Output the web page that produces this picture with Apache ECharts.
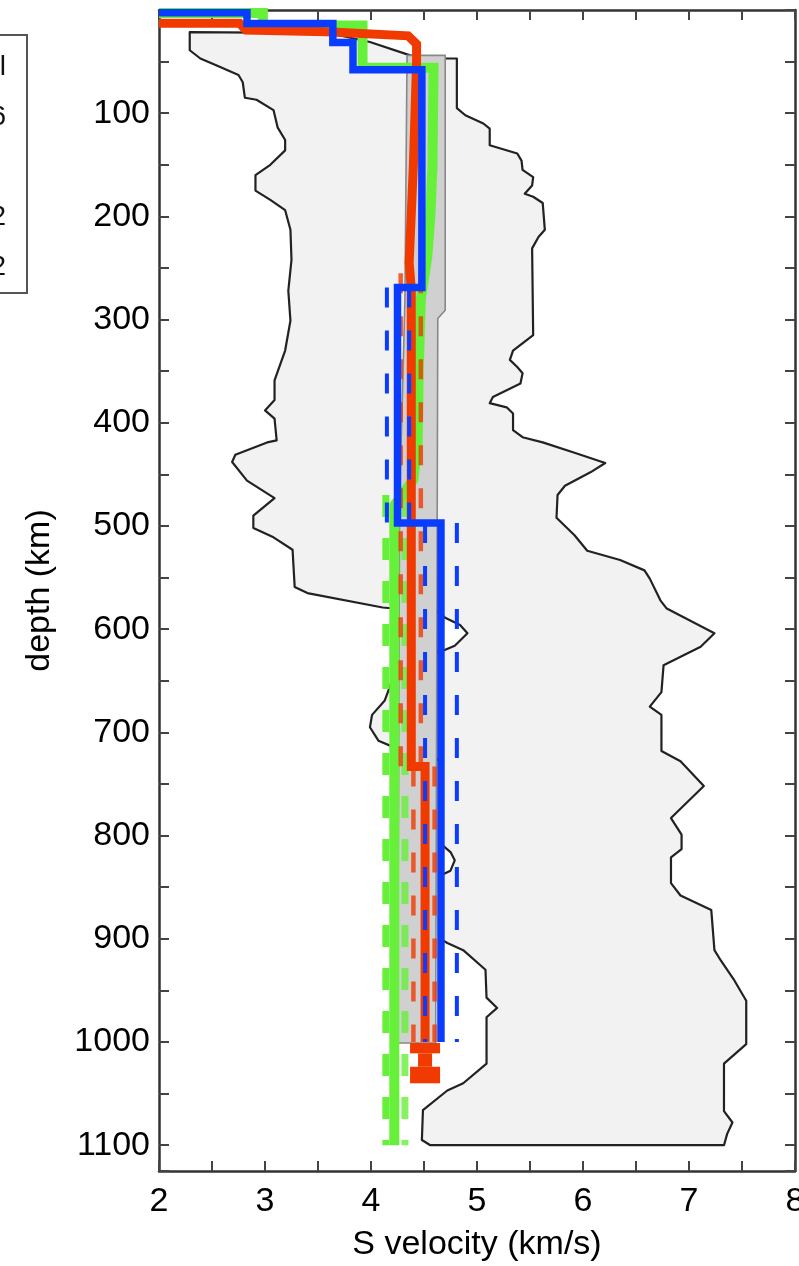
<!DOCTYPE html>
<html><head><meta charset="utf-8">
<script src="https://cdn.jsdelivr.net/npm/echarts@6/dist/echarts.min.js"></script>
<style>html,body{margin:0;padding:0;background:#fff}#c{width:799px;height:1266px}</style>
</head><body><div id="c"></div>
<script>
// ---------- data ----------
const xRange = [2, 8];
const depthRange = [0, 1125];
const xTitle = 'S velocity (km/s)';
const yTitle = 'depth (km)';
const legendTails = ['l', '6', '', '2', '2'];

// envelope (closed outline: top edge, right side down, bottom, left side up)
const envV = [2.29,3.61,3.99,4.37,4.46,4.81,
  4.81,4.89,5.06,5.12,5.12,5.38,5.42,5.43,5.53,5.52,5.45,5.53,5.62,5.64,5.58,5.52,5.53,5.34,5.31,5.38,5.43,5.41,5.15,5.12,5.28,5.34,5.34,5.43,5.62,5.92,6.21,6.07,5.83,5.76,5.75,5.92,6.04,6.35,6.58,6.63,6.73,6.79,7.24,7.11,6.76,6.74,6.63,6.74,6.74,6.92,7.14,6.83,6.93,6.93,6.83,6.83,6.92,7.21,7.24,7.30,7.42,7.54,7.54,7.33,7.33,7.41,7.36,7.33,
  4.56,
  4.48,4.49,4.72,4.87,5.09,5.09,5.19,5.09,5.08,4.87,4.72,4.67,4.67,4.75,4.79,4.75,4.67,4.65,4.23,4.07,3.99,4.01,4.13,4.27,4.70,4.79,4.91,4.84,4.70,4.65,4.11,3.40,3.28,3.26,3.08,2.89,2.89,3.09,2.83,2.69,2.72,3.02,3.11,3.09,3.00,3.09,3.09,3.19,3.24,3.22,3.25,3.24,3.19,3.05,2.91,2.91,3.05,3.19,3.19,3.12,3.08,2.92,2.81,2.79,2.75,2.55,2.39,2.29];
const envD = [21.5,22.5,31,44,47,47,
  95,102,110,115,131,139,146,155,162,170,178,181,187,213,220,231,315,330,339,346,352,362,375,381,385,391,407,414,419,429,439,448,461,470,492,509,524,533,543,551,572,580,604,617,635,661,675,683,718,728,752,783,799,813,821,846,858,872,911,921,939,960,1002,1021,1067,1078,1089,1100,
  1100,
  1095,1066,1047,1040,1021,976,967,957,930,911,904,901,838,834,824,816,809,727,715,708,695,683,669,630,620,616,604,596,589,584,579,565,559,523,511,502,490,473,456,438,431,419,417,396,388,378,359,330,301,272,242,213,194,184,175,160,150,136,126,114,97,87,85,70,63,54,47,39];

// dark grey band
const bandV = [4.34, 4.32, 4.27, 4.25, 4.61, 4.63, 4.70, 4.70];
const bandD = [44, 281, 475, 1001, 1001, 299, 291, 44];

// blue model
const blueV = [2.0, 2.83, 2.83, 3.64, 3.64, 3.83, 3.83, 4.48, 4.48, 4.25, 4.25, 4.66, 4.66];
const blueD = [2.6, 2.6, 13, 13, 31.5, 31.5, 58, 58, 269, 269, 497, 497, 1000];
const blueBoundTop = [269, 497];
const blueBoundBottom = [497, 1000];
const blueLow = [4.15, 4.51];
const blueHigh = [4.36, 4.81];

// red model
const redV = [2.0, 2.76, 2.82, 3.58, 4.35, 4.43, 4.43, 4.40, 4.36, 4.38, 4.38, 4.51, 4.51];
const redD = [12.8, 12.8, 19.5, 21, 25, 33, 50, 150, 245, 270, 733, 733, 1000];
const redBoundTop = [255, 733];
const redBoundBottom = [733, 1000];
const redLow = [4.28, 4.40];
const redHigh = [4.47, 4.60];
const redTailV = 4.51;
const redTailD = [1001, 1011, 1024, 1040];

// green model
const greenV = [2.0, 2.98, 2.98, 3.92, 3.92, 4.59, 4.58, 4.56, 4.53, 4.47, 4.45, 4.44, 4.40, 4.22, 4.22, 4.22];
const greenD = [3, 3, 15, 15, 56, 56, 150, 200, 240, 280, 350, 420, 455, 480, 500, 1100];
const greenBoundD = [470, 1100];
const greenLow = 4.14;
const greenHigh = 4.32;

// ---------- styles ----------
const FONT = "'Liberation Sans', Arial, Helvetica, sans-serif";
const BLUE = '#0a3cff', RED = '#f03a00', GREEN = '#66f03a';
const AX = '#333';

function lineSeries(vs, ds, color, width, dash, z, opacity) {
  return {
    type: 'line', xAxisIndex: 0, yAxisIndex: 0,
    data: vs.map((v, i) => [v, ds[i]]),
    symbol: 'none', silent: true, z: z, clip: true, animation: false,
    lineStyle: { color: color, width: width, type: dash, join: 'miter', cap: 'butt',
      opacity: opacity == null ? 1 : opacity }
  };
}
function polySeries(vs, ds, fill, stroke, lw, z) {
  return {
    type: 'custom', xAxisIndex: 0, yAxisIndex: 0, z: z, silent: true, clip: true, animation: false,
    data: [[vs[0], ds[0]]],
    renderItem: function (params, api) {
      return { type: 'polygon', shape: { points: vs.map((v, i) => api.coord([v, ds[i]])) },
        style: { fill: fill, stroke: stroke, lineWidth: lw, lineJoin: 'round' } };
    }
  };
}

const series = [];
series.push(polySeries(envV, envD, '#f2f2f2', '#222', 2.2, 1));
series.push(polySeries(bandV, bandD, '#d0d0d0', '#888', 1.6, 2));
// green
series.push(lineSeries([greenLow, greenLow], greenBoundD, GREEN, 7, [22, 21], 3));
series.push(lineSeries([greenHigh, greenHigh], greenBoundD, GREEN, 7, [22, 21], 3, 0.8));
series.push(lineSeries(greenV, greenD, GREEN, 10, 'solid', 4));
// red
for (let i = 0; i < redLow.length; i++) {
  series.push(lineSeries([redLow[i], redLow[i]], [redBoundTop[i], redBoundBottom[i]], RED, 4.5, [20, 23], 5, 0.8));
  series.push(lineSeries([redHigh[i], redHigh[i]], [redBoundTop[i], redBoundBottom[i]], RED, 4.5, [20, 23], 5, 0.8));
}
series.push(lineSeries(redV, redD, RED, 9, 'solid', 6));
const tailWidths = [30, 14, 30];
for (let i = 0; i < 3; i++) {
  series.push(lineSeries([redTailV, redTailV], [redTailD[i], redTailD[i + 1]], RED, tailWidths[i], 'solid', 6));
}
// blue
for (let i = 0; i < blueLow.length; i++) {
  series.push(lineSeries([blueLow[i], blueLow[i]], [blueBoundTop[i], blueBoundBottom[i]], BLUE, 4, [20, 23], 7));
  series.push(lineSeries([blueHigh[i], blueHigh[i]], [blueBoundTop[i], blueBoundBottom[i]], BLUE, 4, [20, 23], 7));
}
series.push(lineSeries(blueV, blueD, BLUE, 7.5, 'solid', 8));

const tickStyle = { color: '#444', width: 2 };
function xAx(pos, labels) {
  return {
    type: 'value', position: pos, min: xRange[0], max: xRange[1], interval: 0.5,
    axisLine: { show: true, onZero: false, lineStyle: { color: AX, width: 2.5 } },
    axisTick: { show: true, inside: true, length: 10, lineStyle: tickStyle },
    axisLabel: { show: labels, margin: 14, fontSize: 34, fontFamily: FONT, color: '#000',
      formatter: v => (Math.abs(v - Math.round(v)) < 1e-9 ? String(Math.round(v)) : '') },
    splitLine: { show: false },
    name: labels ? xTitle : '', nameLocation: 'middle', nameGap: 57,
    nameTextStyle: { fontSize: 34, fontFamily: FONT, color: '#000' }
  };
}
function yAx(pos, labels) {
  return {
    type: 'value', position: pos, inverse: true, min: depthRange[0], max: depthRange[1], interval: 50,
    axisLine: { show: true, onZero: false, lineStyle: { color: AX, width: 2.5 } },
    axisTick: { show: true, inside: true, length: 10, lineStyle: tickStyle },
    axisLabel: { show: labels, margin: 9, fontSize: 34, fontFamily: FONT, color: '#000',
      formatter: v => (v > 0 && v % 100 === 0 ? String(v) : '') },
    splitLine: { show: false },
    name: labels ? yTitle : '', nameLocation: 'middle', nameGap: 102, nameRotate: 90,
    nameTextStyle: { fontSize: 34, fontFamily: FONT, color: '#000' }
  };
}

const legendGraphic = [{
  type: 'rect', shape: { x: -60, y: 35, width: 87, height: 258 },
  style: { fill: '#fff', stroke: '#555', lineWidth: 2 }, z: 100
}];
legendTails.forEach((t, i) => {
  if (!t) return;
  legendGraphic.push({ type: 'text', x: 6, y: 67 + i * 50, z: 101,
    style: { text: t, font: "28px " + FONT, fill: '#111', align: 'right', verticalAlign: 'middle' } });
});

const chart = echarts.init(document.getElementById('c'), null, { renderer: 'canvas' });
chart.setOption({
  animation: false,
  backgroundColor: '#fff',
  grid: { left: 159, right: 4, top: 10, bottom: 95, containLabel: false, outerBoundsMode: 'none' },
  xAxis: [xAx('bottom', true), xAx('top', false)],
  yAxis: [yAx('left', true), yAx('right', false)],
  series: series,
  graphic: legendGraphic
});
</script></body></html>
